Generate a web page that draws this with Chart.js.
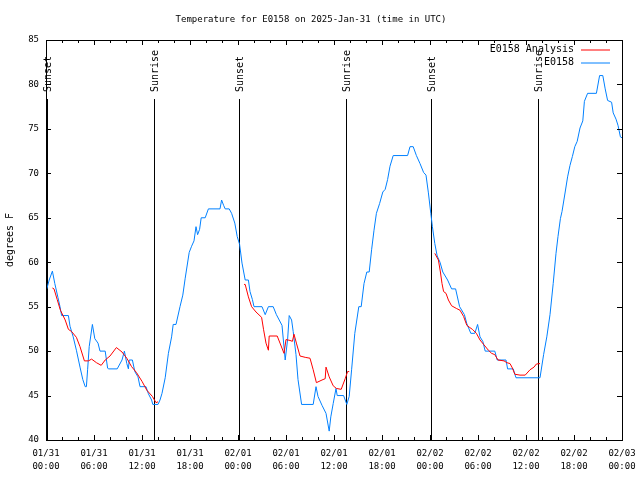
<!DOCTYPE html>
<html>
<head>
<meta charset="utf-8">
<title>Temperature for E0158</title>
<script src="https://cdn.jsdelivr.net/npm/chart.js@4/dist/chart.umd.min.js"></script>
<style>
  html, body { margin: 0; padding: 0; background: #fff; }
  #wrap { width: 640px; height: 480px; position: relative; }
</style>
</head>
<body>
<div id="wrap"><canvas id="tempChart" width="640" height="480"></canvas></div>
<script>
/* Temperature for E0158 — hours since 2025-01-31 00:00 UTC */

var MONO = '"DejaVu Sans Mono", "Liberation Mono", monospace';

// ── Data ──────────────────────────────────────────────────────────────────
var stationHours = [
  0.1, 0.4, 0.8, 1.1, 1.5, 1.75, 1.95, 2.8, 3.0, 3.4, 3.8, 4.25, 4.6, 4.9, 5.05,
  5.2, 5.4, 5.8, 6.1, 6.5, 6.75, 7.4, 7.7, 7.8, 8.9, 9.5, 9.8, 10.1, 10.3, 10.4,
  10.8, 11.1, 11.5, 11.75, 12.5, 12.8, 13.2, 13.35, 14.0, 14.25, 14.5, 14.9, 15.3,
  15.7, 15.9, 16.25, 16.75, 17.1, 17.4, 17.9, 18.2, 18.5, 18.75, 18.95, 19.2, 19.4,
  19.9, 20.3, 21.75, 21.95, 22.2, 22.4, 22.9, 23.2, 23.6, 23.9, 24.2, 24.5, 24.9,
  25.3, 25.5, 25.8, 26.0, 27.0, 27.4, 27.8, 28.4, 28.8, 29.5, 29.9, 30.2, 30.4,
  30.7, 30.9, 31.25, 31.5, 31.95, 33.4, 33.75, 34.0, 34.5, 35.0, 35.4, 35.6, 35.9,
  36.25, 36.4, 37.2, 37.6, 37.9, 38.2, 38.6, 39.1, 39.4, 39.75, 40.1, 40.4, 40.7,
  41.0, 41.3, 41.7, 42.1, 42.4, 42.7, 43.0, 43.4, 45.2, 45.5, 45.9, 46.3, 46.75,
  47.2, 47.5, 47.8, 48.1, 48.3, 48.6, 48.9, 49.25, 49.6, 50.2, 50.7, 51.2, 51.7,
  52.3, 52.6, 53.1, 53.6, 53.95, 54.25, 54.6, 54.9, 56.1, 56.4, 57.5, 57.7, 58.4,
  58.75, 61.75, 62.2, 62.6, 63.0, 63.4, 63.75, 64.0, 64.3, 64.5, 64.9, 65.2, 65.5,
  65.8, 66.1, 66.4, 66.75, 67.1, 67.3, 67.7, 68.8, 69.2, 69.6, 69.9, 70.2, 70.7,
  70.9, 71.25, 71.5, 71.8, 72.0
];
var stationTemps = [
  57, 58, 59, 57.6, 56, 55, 54, 54, 52.8, 51.6, 50.1, 48.2, 46.8, 46, 46,
  47.9, 50.5, 53, 51.4, 50.9, 50, 50, 48.1, 48, 48, 49, 50, 48.6, 48, 49,
  49, 47.7, 47.1, 46, 46, 45.2, 44.5, 44, 44, 44.5, 45.25, 47, 49.75,
  51.6, 53, 53, 55, 56.3, 58.2, 61.1, 61.8, 62.4, 64, 63.1, 63.7, 65,
  65, 66, 66, 67, 66.4, 66, 66, 65.5, 64.4, 62.9, 62, 59.9, 58,
  58, 56.7, 55.8, 55, 55, 54.1, 55, 55, 54.1, 52.9, 49, 51.3, 54,
  53.5, 52.2, 49.6, 46.8, 44, 44, 46, 44.9, 43.9, 43, 41, 42.6, 44.1,
  45.8, 45, 45, 44, 44.9, 47.9, 52, 55, 55, 57.6, 58.9, 58.9, 61.4,
  63.6, 65.5, 66.6, 67.9, 68.2, 69.3, 70.8, 72, 72, 73, 73, 72, 71.1,
  70.1, 69.8, 67.8, 65.5, 64, 62.1, 60.7, 60, 58.9, 58, 57, 57, 55,
  54.1, 53.1, 52, 52, 53, 51.6, 51.1, 50, 50, 49, 49, 48, 48,
  47, 47, 49.6, 51.6, 54.1, 57.6, 61, 62.9, 64.9, 65.7, 67.9, 69.6, 70.9,
  71.9, 73, 73.6, 75.1, 75.9, 78.1, 79, 79, 81, 81, 79.5, 78.2, 78,
  76.8, 76.1, 75.4, 74.1, 74
];

// analysis runs, null separates the three runs
var analysisHours = [
  0.8, 1.0, 1.4, 1.8, 2.4, 2.8, 3.2, 3.8, 4.25, 4.8, 5.3, 5.7, 6.3, 6.9, 7.4, 8.0,
  8.8, 9.5, 10.1, 10.7, 11.3, 12.0, 12.6, 13.3, 13.75, 14.0,
  14.5,
  24.75, 24.9, 25.3, 25.7, 26.25, 26.95, 27.2, 27.5, 27.8, 27.9, 28.9, 29.25, 29.75,
  30.0, 30.5, 30.8, 31.0, 31.3, 31.75, 32.4, 33.0, 33.4, 33.8, 34.5, 34.9, 35.0,
  35.4, 35.9, 36.3, 36.9, 37.4, 37.7, 37.9,
  38.5,
  48.6, 49.05, 49.3, 49.5, 49.7, 50.0, 50.3, 50.7, 51.3, 51.75, 52.2, 52.6, 52.9,
  53.3, 53.8, 54.25, 54.75, 55.3, 55.7, 56.1, 56.5, 57.25, 57.6, 58.0, 58.3, 58.6,
  59.25, 59.9, 60.5, 61.0, 61.3, 61.75
];
var analysisTemps = [
  57.1, 57, 55.8, 54.6, 53.5, 52.45, 52.2, 51.55, 50.5, 48.9, 48.9, 49.1, 48.7, 48.4, 49, 49.45,
  50.4, 49.9, 49.2, 48.25, 47.6, 46.6, 45.6, 44.9, 44.2, 44.3,
  null,
  57.5, 57.5, 56.1, 55, 54.4, 53.8, 52.4, 50.9, 50.1, 51.7, 51.7, 50.9, 49.75,
  51.3, 51.2, 51.1, 51.9, 50.9, 49.45, 49.3, 49.2, 47.9, 46.45, 46.75, 46.9, 48.2,
  47.1, 46.1, 45.8, 45.7, 46.9, 47.7, 47.7,
  null,
  61, 60.25, 58.9, 57.6, 56.7, 56.5, 55.75, 55.1, 54.8, 54.6, 53.9, 52.9, 52.7,
  52.45, 52, 51.25, 50.7, 50.1, 49.75, 49.6, 49, 48.9, 48.7, 48.6, 48.1, 47.4,
  47.3, 47.3, 47.9, 48.2, 48.55, 48.6
];

var sunHours  = [0.15, 13.55, 24.15, 37.55, 48.1, 61.45];
var sunLabels = ['Sunset', 'Sunrise', 'Sunset', 'Sunrise', 'Sunset', 'Sunrise'];

var xTickLabels = [
  ['01/31', '00:00'], ['01/31', '06:00'], ['01/31', '12:00'], ['01/31', '18:00'],
  ['02/01', '00:00'], ['02/01', '06:00'], ['02/01', '12:00'], ['02/01', '18:00'],
  ['02/02', '00:00'], ['02/02', '06:00'], ['02/02', '12:00'], ['02/02', '18:00'],
  ['02/03', '00:00']
];

var RED  = '#ff0000';
var BLUE = '#0080ff';

function zip(xs, ys) {
  return xs.map(function (x, i) { return { x: x, y: ys[i] }; });
}

// ── Frame, inward ticks, sun markers and legend (gnuplot look) ────────────
var gnuplotFrame = {
  id: 'gnuplotFrame',
  beforeDatasetsDraw: function (chart) {
    var ctx = chart.ctx, a = chart.chartArea, xs = chart.scales.x;
    ctx.save();
    ctx.strokeStyle = '#000';
    ctx.lineWidth = 1;
    ctx.fillStyle = '#000';
    ctx.font = '10px ' + MONO;
    sunHours.forEach(function (h, i) {
      var px = Math.round(xs.getPixelForValue(h)) + 0.5;
      ctx.beginPath();
      ctx.moveTo(px, a.top + 59);
      ctx.lineTo(px, a.bottom);
      ctx.stroke();
      ctx.save();
      ctx.translate(px + 1, a.top + 52);
      ctx.rotate(-Math.PI / 2);
      ctx.textAlign = 'left';
      ctx.textBaseline = 'middle';
      ctx.fillText(sunLabels[i], 0, 0);
      ctx.restore();
    });
    ctx.restore();
  },
  afterDraw: function (chart) {
    var ctx = chart.ctx, a = chart.chartArea;
    var xs = chart.scales.x, ys = chart.scales.y;
    ctx.save();
    ctx.strokeStyle = '#000';
    ctx.lineWidth = 1;
    ctx.strokeRect(Math.round(a.left) + 0.5, Math.round(a.top) + 0.5,
      Math.round(a.right - a.left), Math.round(a.bottom - a.top));
    ctx.beginPath();
    for (var h = xs.min; h <= xs.max; h += 2) {
      var px = Math.round(xs.getPixelForValue(h)) + 0.5;
      var len = (h % 6 === 0) ? 5 : 3;
      ctx.moveTo(px, a.bottom); ctx.lineTo(px, a.bottom - len);
      ctx.moveTo(px, a.top);    ctx.lineTo(px, a.top + len);
    }
    ys.ticks.forEach(function (t) {
      var py = Math.round(ys.getPixelForValue(t.value)) + 0.5;
      ctx.moveTo(a.left, py);  ctx.lineTo(a.left + 5, py);
      ctx.moveTo(a.right, py); ctx.lineTo(a.right - 5, py);
    });
    ctx.stroke();

    // legend: text right aligned, sample line to the right
    ctx.font = '10px ' + MONO;
    ctx.textAlign = 'right';
    ctx.textBaseline = 'middle';
    chart.data.datasets.forEach(function (ds, i) {
      var y = 49.5 + i * 13;
      ctx.fillStyle = '#000';
      ctx.fillText(ds.label, 574, y);
      ctx.strokeStyle = ds.borderColor;
      ctx.beginPath();
      ctx.moveTo(581, y + 0.5);
      ctx.lineTo(610, y + 0.5);
      ctx.stroke();
    });
    ctx.restore();
  }
};

new Chart(document.getElementById('tempChart'), {
  type: 'line',
  data: {
    datasets: [
      {
        label: 'E0158 Analysis',
        data: zip(analysisHours, analysisTemps),
        borderColor: RED,
        borderWidth: 1,
        pointRadius: 0,
        fill: false,
        spanGaps: false,
        tension: 0
      },
      {
        label: 'E0158',
        data: zip(stationHours, stationTemps),
        borderColor: BLUE,
        borderWidth: 1,
        pointRadius: 0,
        fill: false,
        tension: 0
      }
    ]
  },
  plugins: [gnuplotFrame],
  options: {
    responsive: false,
    animation: false,
    layout: { padding: { top: 0, right: 18, left: 0, bottom: 0 } },
    plugins: {
      legend: { display: false },
      tooltip: { enabled: false },
      title: {
        display: true,
        text: 'Temperature for E0158 on 2025-Jan-31 (time in UTC)',
        color: '#000',
        font: { family: MONO, size: 9, weight: 'normal', lineHeight: 1.2 },
        padding: { top: 14.6, bottom: 14.6 }
      }
    },
    scales: {
      x: {
        type: 'linear',
        min: 0,
        max: 72,
        grid: { display: false, tickLength: 7 },
        border: { display: false },
        afterFit: function (s) { s.height = 40; },
        ticks: {
          stepSize: 6,
          maxRotation: 0,
          autoSkip: false,
          padding: 0,
          color: '#000',
          font: { family: MONO, size: 9, lineHeight: 1.45 },
          callback: function (v) { return xTickLabels[Math.round(v / 6)]; }
        }
      },
      y: {
        min: 40,
        max: 85,
        grid: { display: false, tickLength: 7 },
        border: { display: false },
        afterFit: function (s) { s.width = 46; },
        title: {
          display: true,
          text: 'degrees F',
          color: '#000',
          font: { family: MONO, size: 10 }
        },
        ticks: {
          stepSize: 5,
          padding: 0,
          color: '#000',
          font: { family: MONO, size: 9 }
        }
      }
    }
  }
});
</script>
</body>
</html>
